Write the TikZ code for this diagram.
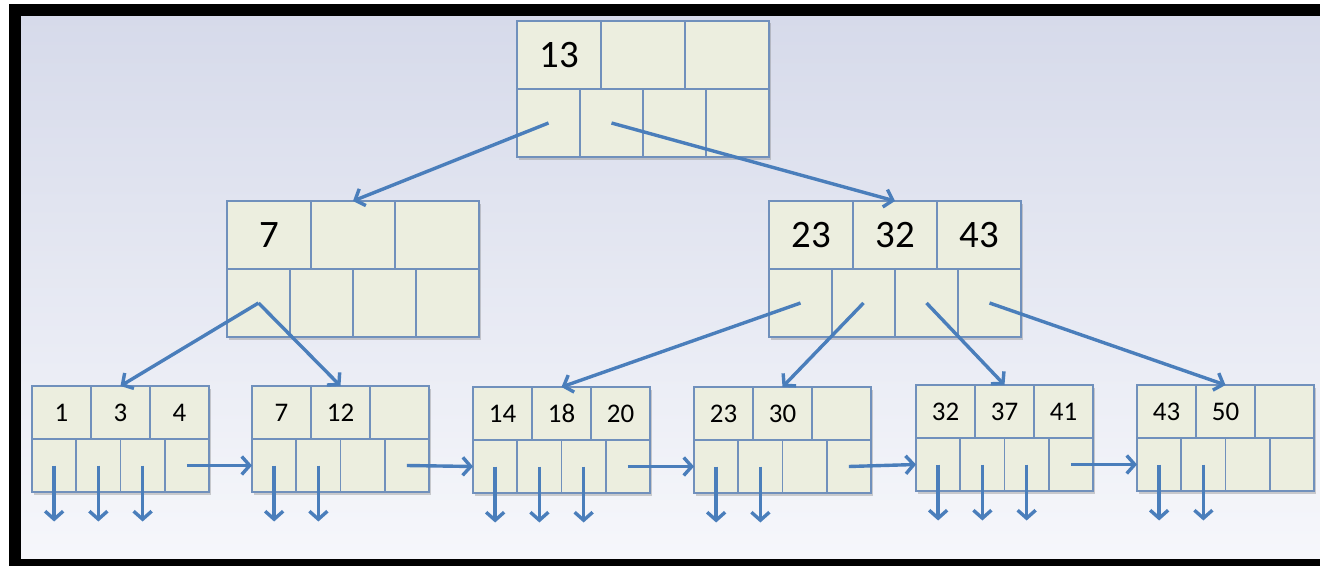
\documentclass[tikz,border=0pt]{standalone}
\usepackage{fontspec}
\setmainfont{Carlito}
\usetikzlibrary{arrows.meta,shadows,calc}
\definecolor{cellfill}{HTML}{ECEEDF}
\definecolor{cellline}{HTML}{7090BC}
\definecolor{arrowc}{HTML}{4A7EBB}
\definecolor{bgtop}{HTML}{D6DAEA}
\definecolor{bgbot}{HTML}{F6F7FB}
\tikzset{
 cell/.style={draw=cellline, fill=cellfill, line width=1.6bp, anchor=north west, inner sep=0pt, outer sep=0pt},
 nodebox/.style={fill=cellfill, anchor=north west, inner sep=0pt, outer sep=0pt,
   drop shadow={shadow xshift=1.5bp, shadow yshift=-2.5bp, opacity=0.3, fill=black!60}},
 link/.style={draw=arrowc, line width=3.4bp, -{Straight Barb[length=8bp,width=18bp]}},
 bigkey/.style={font=\fontsize{39}{46}\selectfont},
 leafkey/.style={font=\fontsize{27}{32}\selectfont},
}
\newcommand{\btn}[9]{%
 \pgfmathsetmacro\cw{#4/3}\pgfmathsetmacro\pw{#4/4}\pgfmathsetmacro\rh{#5/2}%
 \node[nodebox, minimum width=#4bp, minimum height=#5bp] (#1) at (#2,#3) {};
 \node[cell,#6,minimum width=\cw bp,minimum height=\rh bp] (#1-k1) at (#2,#3) {#7};
 \node[cell,#6,minimum width=\cw bp,minimum height=\rh bp] (#1-k2) at (#2+\cw,#3) {#8};
 \node[cell,#6,minimum width=\cw bp,minimum height=\rh bp] (#1-k3) at (#2+2*\cw,#3) {#9};
 \foreach \j in {1,2,3,4}{%
   \node[cell,minimum width=\pw bp,minimum height=\rh bp] (#1-p\j) at ({#2+(\j-1)*\pw},#3+\rh) {};
 }%
}
\begin{document}
\begin{tikzpicture}[x=1bp,y=-1bp]
\useasboundingbox (0,0) rectangle (1320,566);
\fill[white] (0,0) rectangle (1320,566);
\fill[bgtop!50!bgbot] (21,16) rectangle (1320,559);
\begin{scope}
  \clip (21,16) rectangle (1320,559);
  \shade[top color=bgtop, bottom color=bgbot] (-40,16) rectangle (1400,559);
\end{scope}
\fill[black] (9,4) rectangle (21,566);
\fill[black] (9,4) rectangle (1320,16);
\fill[black] (9,559) rectangle (1320,566);

\btn{top}{517}{21}{252}{136}{bigkey}{13}{}{}
\btn{midL}{227}{201}{252}{136}{bigkey}{7}{}{}
\btn{midR}{769}{201}{252}{136}{bigkey}{23}{32}{43}
\btn{l1}{32}{386}{177}{106}{leafkey}{1}{3}{4}
\btn{l2}{252}{386}{177}{106}{leafkey}{7}{12}{}
\btn{l3}{473}{387}{177}{106}{leafkey}{14}{18}{20}
\btn{l4}{694}{387}{177}{106}{leafkey}{23}{30}{}
\btn{l5}{916}{385}{177}{106}{leafkey}{32}{37}{41}
\btn{l6}{1137}{385}{177}{106}{leafkey}{43}{50}{}

\draw[link] (top-p1.center) -- (midL-k2.north);
\draw[link] (top-p2.center) -- (midR-k2.north);
\draw[link] (midL-p1.center) -- (l1-k2.north);
\draw[link] (midL-p1.center) -- (l2-k2.north);
\draw[link] (midR-p1.center) -- (l3-k2.north);
\draw[link] (midR-p2.center) -- (l4-k2.north);
\draw[link] (midR-p3.center) -- (l5-k2.north);
\draw[link] (midR-p4.center) -- (l6-k2.north);

\draw[link] (l1-p4.center) -- (l2-p1.west);
\draw[link] (l2-p4.center) -- (l3-p1.west);
\draw[link] (l3-p4.center) -- (l4-p1.west);
\draw[link] (l4-p4.center) -- (l5-p1.west);
\draw[link] (l5-p4.center) -- (l6-p1.west);

\foreach \n/\k in {l1/1,l1/2,l1/3,l2/1,l2/2,l3/1,l3/2,l3/3,l4/1,l4/2,l5/1,l5/2,l5/3,l6/1,l6/2}{
  \draw[link] (\n-p\k.center) -- ++(0,56);
}
\end{tikzpicture}
\end{document}
